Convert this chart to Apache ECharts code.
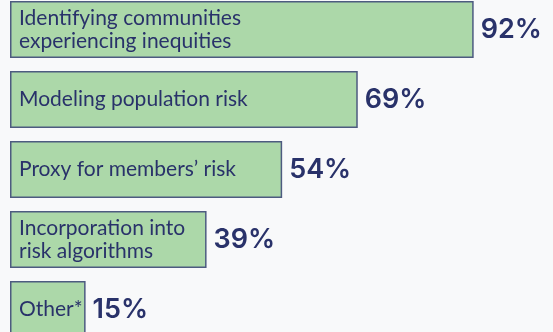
<!DOCTYPE html>
<html>
<head>
<meta charset="utf-8">
<script src="https://cdn.jsdelivr.net/npm/echarts@6/dist/echarts.min.js"></script>
<style>
  html, body { margin: 0; padding: 0; background: #f8f9fa; }
  #chart { width: 553px; height: 332px; }
</style>
</head>
<body>
<div id="chart"></div>
<script>
// Uses of the data, share of respondents (%)
const categories = [
  'Identifying communities\nexperiencing inequities',
  'Modeling population risk',
  'Proxy for members\u2019 risk',
  'Incorporation into\nrisk algorithms',
  'Other*'
];
const shares = [92, 69, 54, 39, 15];

const navy = '#29326a';
const chart = echarts.init(document.getElementById('chart'), null, { renderer: 'canvas' });

chart.setOption({
  backgroundColor: '#f8f9fa',
  animation: false,
  // category ticks sit on the bar centres (boundaryGap false), 70px apart
  grid: { left: 10, width: 504, top: 29.5, height: 280, containLabel: false },
  xAxis: { type: 'value', min: 0, max: 100, show: false },
  yAxis: { type: 'category', data: categories, inverse: true, show: false, boundaryGap: false },
  series: [
    {
      type: 'bar',
      data: shares,
      barWidth: 57,
      clip: false,
      itemStyle: { color: '#acd8a9', borderColor: '#4d5b80', borderWidth: 1.5 },
      label: {
        show: true,
        position: 'insideLeft',
        distance: 9,
        formatter: p => p.name,
        color: navy,
        fontFamily: 'Lato',
        fontSize: 21,
        lineHeight: 23
      },
      z: 2
    },
    {
      type: 'bar',
      data: shares,
      barWidth: 57,
      barGap: '-100%',
      clip: false,
      itemStyle: { color: 'rgba(0,0,0,0)' },
      label: {
        show: true,
        position: 'right',
        distance: 7,
        formatter: p => p.value + '%',
        color: navy,
        fontFamily: 'Inter',
        fontWeight: 600,
        fontSize: 27
      },
      silent: true,
      z: 3
    }
  ]
});
</script>
</body>
</html>
